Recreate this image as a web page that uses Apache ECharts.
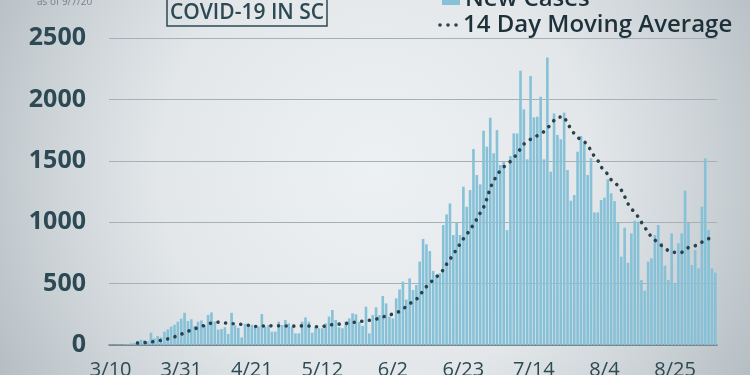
<!doctype html>
<html lang="en">
<head>
<meta charset="UTF-8" />
<title>COVID-19 IN SC</title>
<script src="https://cdn.jsdelivr.net/npm/echarts@6/dist/echarts.min.js"></script>
<style>
    html, body { margin: 0; padding: 0; }
    #chart { width: 750px; height: 375px; }
</style>
</head>
<body>
<div id="chart"></div>
<script>
    // daily categories, 3/10 .. 9/6
    var dates = [
        '3/10','3/11','3/12','3/13','3/14','3/15','3/16','3/17','3/18','3/19','3/20','3/21','3/22','3/23','3/24','3/25','3/26','3/27','3/28','3/29','3/30','3/31',
        '4/1','4/2','4/3','4/4','4/5','4/6','4/7','4/8','4/9','4/10','4/11','4/12','4/13','4/14','4/15','4/16','4/17','4/18','4/19','4/20','4/21','4/22','4/23','4/24','4/25','4/26','4/27','4/28','4/29','4/30',
        '5/1','5/2','5/3','5/4','5/5','5/6','5/7','5/8','5/9','5/10','5/11','5/12','5/13','5/14','5/15','5/16','5/17','5/18','5/19','5/20','5/21','5/22','5/23','5/24','5/25','5/26','5/27','5/28','5/29','5/30','5/31',
        '6/1','6/2','6/3','6/4','6/5','6/6','6/7','6/8','6/9','6/10','6/11','6/12','6/13','6/14','6/15','6/16','6/17','6/18','6/19','6/20','6/21','6/22','6/23','6/24','6/25','6/26','6/27','6/28','6/29','6/30',
        '7/1','7/2','7/3','7/4','7/5','7/6','7/7','7/8','7/9','7/10','7/11','7/12','7/13','7/14','7/15','7/16','7/17','7/18','7/19','7/20','7/21','7/22','7/23','7/24','7/25','7/26','7/27','7/28','7/29','7/30','7/31',
        '8/1','8/2','8/3','8/4','8/5','8/6','8/7','8/8','8/9','8/10','8/11','8/12','8/13','8/14','8/15','8/16','8/17','8/18','8/19','8/20','8/21','8/22','8/23','8/24','8/25','8/26','8/27','8/28','8/29','8/30','8/31',
        '9/1','9/2','9/3','9/4','9/5','9/6'
    ];

    // new cases per day
    var newCases = [
        2, 1, 3, 2, 5, 7, 14, 18, 33, 42,
        38, 30, 100, 54, 73, 62, 108, 127, 150, 165,
        190, 215, 262, 195, 210, 155, 190, 200, 162, 245,
        265, 192, 125, 130, 145, 90, 262, 160, 140, 62,
        172, 160, 165, 163, 150, 252, 150, 163, 109, 109,
        190, 163, 204, 176, 150, 95, 95, 190, 225, 190,
        100, 150, 136, 136, 176, 231, 285, 204, 144, 136,
        190, 217, 258, 250, 190, 155, 312, 95, 244, 307,
        244, 399, 339, 231, 217, 380, 453, 516, 370, 543,
        448, 489, 679, 863, 820, 765, 603, 570, 584, 977,
        1064, 1153, 896, 996, 896, 1289, 1126, 1262, 1596, 1384,
        1308, 1745, 1615, 1851, 1561, 1750, 1466, 1493, 936, 1539,
        1723, 1723, 2234, 1919, 1512, 2190, 1854, 1859, 2022, 1512,
        2342, 1411, 1886, 1710, 1675, 1892, 1425, 1175, 1221, 1574,
        1702, 1642, 1384, 1520, 1080, 1080, 1181, 1200, 1349, 1235,
        1172, 996, 719, 955, 670, 909, 1012, 1004, 529, 442,
        679, 706, 896, 977, 833, 646, 529, 909, 502, 828,
        909, 1257, 996, 651, 773, 624, 1126, 1520, 936, 624,
        589
    ];

    // 14 day moving average
    var movingAvg = [
        null, null, null, null, null, null, null, null, 16, 18,
        19, 22, 25, 29, 33, 38, 44, 50, 57, 66,
        76, 87, 102, 112, 122, 132, 141, 151, 161, 171,
        179, 184, 186, 183, 180, 177, 174, 173, 172, 168,
        165, 161, 156, 151, 152, 154, 155, 156, 156, 156,
        156, 156, 155, 155, 154, 153, 154, 156, 158, 155,
        151, 149, 149, 150, 155, 161, 166, 168, 170, 172,
        175, 179, 183, 187, 191, 194, 198, 202, 206, 211,
        217, 227, 237, 245, 252, 260, 275, 293, 313, 336,
        355, 370, 405, 440, 475, 503, 530, 555, 580, 612,
        658, 698, 738, 780, 822, 865, 901, 940, 980, 1025,
        1075, 1120, 1190, 1280, 1335, 1384, 1420, 1450, 1468, 1495,
        1522, 1558, 1598, 1636, 1659, 1675, 1693, 1705, 1718, 1738,
        1766, 1795, 1830, 1853, 1857, 1859, 1805, 1760, 1720, 1690,
        1672, 1655, 1630, 1580, 1535, 1505, 1450, 1415, 1392, 1345,
        1320, 1300, 1262, 1210, 1150, 1110, 1080, 1045, 1000, 960,
        915, 880, 855, 830, 810, 788, 768, 758, 754, 752,
        754, 770, 795, 803, 808, 818, 838, 852, 866, 880,
        884
    ];

    var FONT = '"Open Sans", Lato, sans-serif';
    var barColor = '#87c1d7';
    var inkColor = '#2c4954';

    var chart = echarts.init(document.getElementById('chart'));

    function everyThreeWeeks(index) {
        return index % 21 === 0;
    }

    var option = {
        animation: false,
        backgroundColor: {
            type: 'radial', x: 0.5, y: 0.45, r: 1.15,
            colorStops: [
                { offset: 0, color: '#eef1f3' },
                { offset: 0.5, color: '#e3e7ea' },
                { offset: 0.8, color: '#c9d0d4' },
                { offset: 1, color: '#b4bdc2' }
            ]
        },
        // labels are allowed to run off the bottom edge, like the original
        grid: { left: 109, right: 33, top: 38, bottom: 30, outerBoundsMode: 'none' },
        xAxis: {
            type: 'category',
            data: dates,
            axisLine: { lineStyle: { color: '#6d797f', width: 1.5 } },
            axisTick: {
                alignWithLabel: true,
                interval: everyThreeWeeks,
                length: 6,
                lineStyle: { color: '#6d797f', width: 1.2 }
            },
            axisLabel: {
                interval: everyThreeWeeks,
                margin: 15,
                fontFamily: FONT,
                fontSize: 20,
                color: inkColor
            },
            splitLine: { show: false }
        },
        yAxis: {
            type: 'value',
            min: 0,
            max: 2500,
            interval: 500,
            axisLine: { show: false },
            axisTick: { show: false },
            axisLabel: {
                margin: 23,
                fontFamily: FONT,
                fontSize: 25,
                fontWeight: 'bold',
                color: inkColor,
                formatter: function (v) { return String(v); }
            },
            splitLine: { lineStyle: { color: '#a7b0b5', width: 1 } }
        },
        series: [
            {
                name: 'New Cases',
                type: 'bar',
                data: newCases,
                barCategoryGap: '22%',
                itemStyle: { color: barColor }
            },
            {
                name: '14 Day Moving Average',
                type: 'line',
                data: movingAvg,
                symbol: 'none',
                lineStyle: {
                    color: '#2a414c',
                    width: 3.6,
                    type: [0.01, 7.6],
                    cap: 'round'
                }
            }
        ],
        graphic: [
            {
                type: 'text', x: 37, y: 2,
                style: { text: 'as of 9/7/20', font: '10px ' + FONT, fill: '#74828a', verticalAlign: 'middle' }
            },
            {
                type: 'rect',
                shape: { x: 167, y: -12, width: 160, height: 38 },
                style: { fill: 'none', stroke: inkColor, lineWidth: 1.5 }
            },
            {
                type: 'text', x: 247, y: 13,
                style: { text: 'COVID-19 IN SC', font: '600 21px ' + FONT, fill: inkColor, align: 'center', verticalAlign: 'middle' }
            },
            {
                type: 'rect',
                shape: { x: 442, y: -14, width: 18, height: 19 },
                style: { fill: barColor }
            },
            {
                type: 'text', x: 465, y: -1,
                style: { text: 'New Cases', font: '600 24px ' + FONT, fill: '#1e313a', verticalAlign: 'middle' }
            },
            { type: 'circle', shape: { cx: 440, cy: 25, r: 1.8 }, style: { fill: '#2a414c' } },
            { type: 'circle', shape: { cx: 448, cy: 25, r: 1.8 }, style: { fill: '#2a414c' } },
            { type: 'circle', shape: { cx: 456, cy: 25, r: 1.8 }, style: { fill: '#2a414c' } },
            {
                type: 'text', x: 463, y: 25,
                style: { text: '14 Day Moving Average', font: '600 24px ' + FONT, fill: '#1e313a', verticalAlign: 'middle' }
            }
        ]
    };

    chart.setOption(option);
</script>
</body>
</html>
